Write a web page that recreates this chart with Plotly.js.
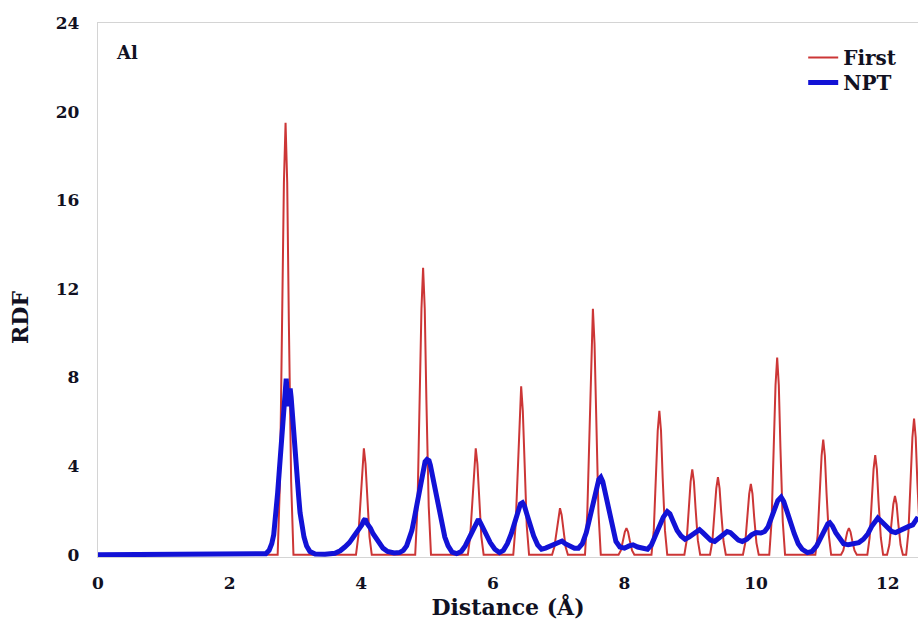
<!DOCTYPE html>
<html>
<head>
<meta charset="utf-8">
<script src="https://cdn.plot.ly/plotly-3.0.1.min.js"></script>
<style>html,body{margin:0;padding:0;background:#fff;}#chart{width:918px;height:626px;}</style>
</head>
<body>
<div id="chart"></div>
<script>
// Series "First" (red): distance (Å) and RDF values
var firstX = [0,
  2.73,2.765,2.80,2.825,2.85,2.875,2.90,2.935,2.97,
  3.92,3.955,3.99,4.015,4.04,4.065,4.09,4.125,4.16,
  4.82,4.855,4.89,4.915,4.94,4.965,4.99,5.025,5.06,
  5.62,5.655,5.69,5.715,5.74,5.765,5.79,5.825,5.86,
  6.31,6.345,6.38,6.405,6.43,6.455,6.48,6.515,6.55,
  6.90,6.935,6.97,6.995,7.02,7.045,7.07,7.105,7.14,
  7.40,7.435,7.47,7.495,7.52,7.545,7.57,7.605,7.64,
  7.91,7.945,7.98,8.005,8.03,8.055,8.08,8.115,8.15,
  8.41,8.445,8.48,8.505,8.53,8.555,8.58,8.615,8.65,
  8.91,8.945,8.98,9.005,9.03,9.055,9.08,9.115,9.15,
  9.30,9.335,9.37,9.395,9.42,9.445,9.47,9.505,9.54,
  9.80,9.835,9.87,9.895,9.92,9.945,9.97,10.005,10.04,
  10.20,10.235,10.27,10.295,10.32,10.345,10.37,10.405,10.44,
  10.90,10.935,10.97,10.995,11.02,11.045,11.07,11.105,11.14,
  11.29,11.325,11.36,11.385,11.41,11.435,11.46,11.495,11.53,
  11.69,11.725,11.76,11.785,11.81,11.835,11.86,11.895,11.93,
  11.99,12.025,12.06,12.085,12.11,12.135,12.16,12.195,12.23,
  12.28,12.315,12.35,12.375,12.40,12.425,12.45,12.485,12.52];
var firstY = [0,
  0,3.3,10.5,16.8,19.5,16.8,10.5,3.3,0,
  0,0.82,2.6,4.1,4.8,4.1,2.6,0.82,0,
  0,2.2,7.0,11.1,12.95,11.1,7.0,2.2,0,
  0,0.82,2.6,4.1,4.8,4.1,2.6,0.82,0,
  0,1.3,4.1,6.5,7.6,6.5,4.1,1.3,0,
  0,0.36,1.13,1.8,2.1,1.8,1.13,0.36,0,
  0,1.9,6.0,9.5,11.1,9.5,6.0,1.9,0,
  0,0.2,0.65,1.03,1.2,1.03,0.65,0.2,0,
  0,1.1,3.5,5.6,6.5,5.6,3.5,1.1,0,
  0,0.65,2.1,3.3,3.85,3.3,2.1,0.65,0,
  0,0.6,1.9,3.0,3.5,3.0,1.9,0.6,0,
  0,0.54,1.73,2.75,3.2,2.75,1.73,0.54,0,
  0,1.5,4.8,7.65,8.9,7.65,4.8,1.5,0,
  0,0.88,2.8,4.47,5.2,4.47,2.8,0.88,0,
  0,0.2,0.65,1.03,1.2,1.03,0.65,0.2,0,
  0,0.77,2.43,3.87,4.5,3.87,2.43,0.77,0,
  0,0.45,1.43,2.28,2.65,2.28,1.43,0.45,0,
  0,1.05,3.3,5.3,6.15,5.3,3.3,1.05,0];

// Series "NPT" (blue): [distance, RDF] pairs
var nptPoints = [
  [0,0],[2.45,0],[2.55,0.05],[2.60,0.2],[2.64,0.5],[2.67,0.9],[2.69,1.4],[2.71,1.9],[2.73,2.8],[2.75,3.6],
  [2.77,4.4],[2.79,5.3],[2.81,6.1],[2.83,6.8],[2.845,7.6],[2.86,7.95],[2.87,7.5],[2.88,7.2],[2.895,6.7],[2.905,7.3],
  [2.92,7.5],[2.935,7.1],[2.95,6.4],[2.97,5.5],[2.99,4.9],[3.01,4.1],[3.03,3.3],[3.05,2.6],[3.07,1.9],[3.10,1.3],
  [3.13,0.8],[3.17,0.4],[3.22,0.15],[3.30,0.04],[3.45,0.02],[3.60,0.07],[3.68,0.18],[3.75,0.35],[3.82,0.55],[3.88,0.8],
  [3.93,1.0],[3.97,1.2],[4.01,1.35],[4.04,1.55],[4.06,1.62],[4.08,1.45],[4.11,1.35],[4.14,1.2],[4.18,0.95],[4.22,0.75],
  [4.27,0.5],[4.33,0.3],[4.40,0.15],[4.50,0.08],[4.58,0.1],[4.64,0.2],[4.69,0.4],[4.73,0.7],[4.77,1.1],[4.81,1.7],
  [4.85,2.3],[4.88,2.8],[4.91,3.3],[4.94,3.8],[4.97,4.2],[5.00,4.3],[5.03,4.25],[5.05,4.05],[5.08,3.6],[5.11,3.1],
  [5.14,2.5],[5.18,1.9],[5.22,1.3],[5.27,0.8],[5.32,0.4],[5.38,0.12],[5.45,0.05],[5.52,0.15],[5.58,0.4],[5.64,0.75],
  [5.70,1.15],[5.75,1.45],[5.78,1.6],[5.81,1.45],[5.85,1.2],[5.90,0.9],[5.96,0.55],[6.03,0.25],[6.10,0.1],[6.16,0.2],
  [6.22,0.5],[6.28,0.95],[6.33,1.45],[6.38,1.9],[6.42,2.3],[6.45,2.35],[6.48,2.2],[6.52,1.8],[6.57,1.3],[6.62,0.85],
  [6.68,0.45],[6.74,0.25],[6.80,0.3],[6.87,0.4],[6.94,0.5],[7.00,0.6],[7.05,0.62],[7.10,0.5],[7.17,0.38],[7.24,0.3],
  [7.30,0.3],[7.36,0.5],[7.42,1.0],[7.47,1.6],[7.52,2.3],[7.57,2.9],[7.61,3.4],[7.64,3.5],[7.67,3.3],[7.70,2.9],
  [7.74,2.3],[7.78,1.7],[7.82,1.1],[7.87,0.6],[7.93,0.35],[8.00,0.3],[8.07,0.4],[8.13,0.45],[8.20,0.35],[8.28,0.28],
  [8.35,0.25],[8.41,0.45],[8.47,0.85],[8.53,1.3],[8.59,1.7],[8.65,1.95],[8.69,1.85],[8.74,1.5],[8.80,1.1],[8.86,0.85],
  [8.92,0.7],[8.98,0.8],[9.04,0.95],[9.10,1.1],[9.14,1.13],[9.19,1.0],[9.25,0.8],[9.31,0.65],[9.37,0.6],[9.44,0.78],
  [9.50,0.95],[9.56,1.05],[9.61,1.0],[9.67,0.82],[9.73,0.66],[9.79,0.6],[9.86,0.7],[9.93,0.9],[10.00,1.0],[10.07,0.98],
  [10.13,1.05],[10.18,1.25],[10.23,1.65],[10.28,2.1],[10.33,2.45],[10.38,2.6],[10.42,2.4],[10.47,1.95],[10.52,1.45],[10.58,0.95],
  [10.64,0.5],[10.70,0.25],[10.78,0.1],[10.85,0.15],[10.92,0.4],[10.98,0.8],[11.04,1.15],[11.09,1.4],[11.12,1.45],[11.16,1.3],
  [11.21,1.0],[11.27,0.7],[11.33,0.5],[11.40,0.45],[11.48,0.48],[11.56,0.55],[11.63,0.7],[11.70,0.95],[11.76,1.3],[11.81,1.55],
  [11.85,1.66],[11.89,1.55],[11.94,1.38],[12.00,1.2],[12.06,1.05],[12.12,1.0],[12.18,1.1],[12.25,1.2],[12.32,1.28],[12.38,1.35],
  [12.42,1.5],[12.46,1.7]];

var xTicks = [0, 2, 4, 6, 8, 10, 12];
var yTicks = [0, 4, 8, 12, 16, 20, 24];
var seriesNames = ["First", "NPT"];
var panelLabel = "Al";
var xTitle = "Distance (Å)";
var yTitle = "RDF";

var serif = "DejaVu Serif";
var ink = "#111122";

var data = [
  {x: firstX, y: firstY, type: "scatter", mode: "lines", name: seriesNames[0],
   legend: "legend", line: {color: "#cc3636", width: 2}},
  {x: nptPoints.map(function (p) { return p[0]; }),
   y: nptPoints.map(function (p) { return p[1]; }),
   type: "scatter", mode: "lines", name: seriesNames[1],
   legend: "legend2", line: {color: "#1212d6", width: 5}}
];

var legendFont = {family: serif, size: 20, color: ink, weight: "bold"};

var layout = {
  width: 918, height: 626,
  margin: {l: 98, r: 0, t: 23, b: 69},
  paper_bgcolor: "#ffffff", plot_bgcolor: "#ffffff",
  showlegend: true,
  legend: {x: 0.86, xanchor: "left", y: 0.972, yanchor: "top",
           bgcolor: "rgba(0,0,0,0)", font: legendFont},
  legend2: {x: 0.86, xanchor: "left", y: 0.925, yanchor: "top",
            bgcolor: "rgba(0,0,0,0)", font: legendFont},
  xaxis: {range: [0, 12.46], tickvals: xTicks, ticktext: xTicks.map(String),
          showgrid: false, zeroline: false, showline: true, mirror: true,
          linecolor: "#d4d4d4", linewidth: 1.2, ticks: "", ticklabelstandoff: 10,
          tickfont: {family: serif, size: 17, color: ink, weight: "bold"},
          title: {text: xTitle, standoff: 8,
                  font: {family: serif, size: 22, color: ink, weight: "bold"}}},
  yaxis: {range: [-0.1, 24], tickvals: yTicks, ticktext: yTicks.map(String),
          showgrid: false, zeroline: false, showline: true, mirror: false,
          linecolor: "#d4d4d4", linewidth: 1.2, ticks: "", ticklabelstandoff: 14,
          tickfont: {family: serif, size: 17, color: ink, weight: "bold"}},
  annotations: [
    {text: panelLabel, xref: "paper", yref: "paper", x: 0.019, y: 0.968,
     xanchor: "left", yanchor: "top", showarrow: false,
     font: {family: serif, size: 18, color: ink, weight: "bold"}},
    {text: yTitle, xref: "paper", yref: "paper", x: 0, y: 0.4476,
     xanchor: "center", yanchor: "middle", xshift: -78, textangle: -90, showarrow: false,
     font: {family: serif, size: 22, color: ink, weight: "bold"}}
  ]
};

Plotly.newPlot("chart", data, layout, {displayModeBar: false, staticPlot: true});
</script>
</body>
</html>
